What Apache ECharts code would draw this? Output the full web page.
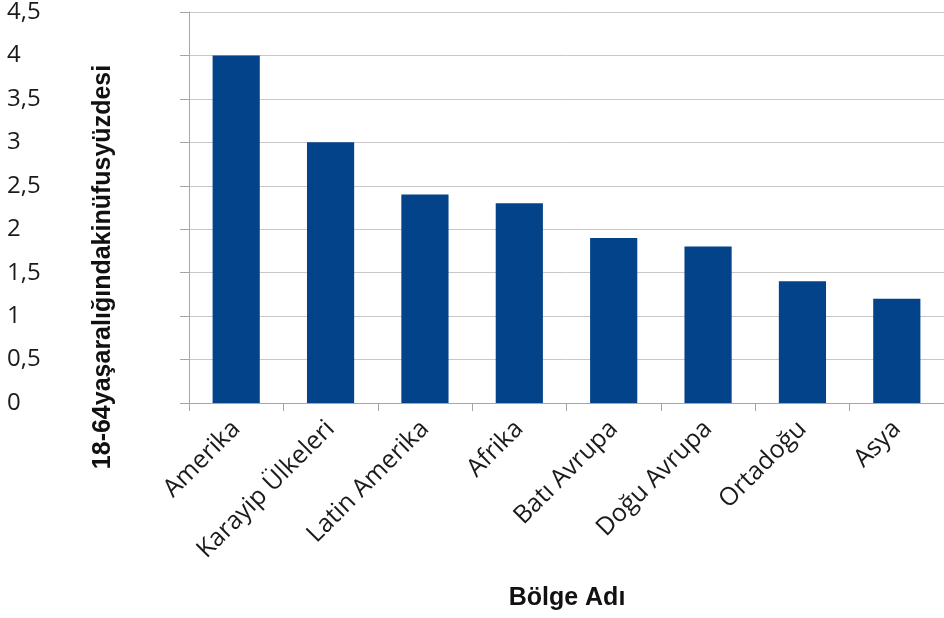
<!DOCTYPE html>
<html>
<head>
<meta charset="utf-8">
<script src="https://cdn.jsdelivr.net/npm/echarts@6/dist/echarts.min.js"></script>
<style>
html, body { margin: 0; padding: 0; background: #fff; }
#main { width: 944px; height: 618px; }
</style>
</head>
<body>
<div id="main"></div>
<script>
var categories = ['Amerika', 'Karayip Ülkeleri', 'Latin Amerika', 'Afrika',
                  'Batı Avrupa', 'Doğu Avrupa', 'Ortadoğu', 'Asya'];
var values = [4, 3, 2.4, 2.3, 1.9, 1.8, 1.4, 1.2];
var yTicks = [0, 0.5, 1, 1.5, 2, 2.5, 3, 3.5, 4, 4.5];

var myChart = echarts.init(document.getElementById('main'));

var option = {
    animation: false,
    grid: {
        left: 189,
        right: -5,
        top: 12,
        bottom: 215
    },
    xAxis: {
        type: 'category',
        data: categories,
        axisLine: {lineStyle: {color: '#a6a6a6', width: 1}},
        axisTick: {show: true, length: 8, alignWithLabel: false, lineStyle: {color: '#a6a6a6'}},
        axisLabel: {
            rotate: 45,
            interval: 0,
            margin: 22,
            fontFamily: 'Open Sans',
            fontSize: 25,
            color: '#1a1a1a'
        }
    },
    yAxis: {
        type: 'value',
        min: yTicks[0],
        max: yTicks[yTicks.length - 1],
        interval: 0.5,
        axisLine: {show: true, lineStyle: {color: '#a6a6a6', width: 1}},
        axisTick: {show: true, length: 9, lineStyle: {color: '#a6a6a6'}},
        splitLine: {lineStyle: {color: '#c8c8c8', width: 1}},
        axisLabel: {
            align: 'left',
            margin: 182,
            fontFamily: 'Open Sans',
            fontSize: 24,
            color: '#1a1a1a',
            formatter: function (v) { return String(v).replace('.', ','); }
        }
    },
    graphic: [
        {
            type: 'text',
            x: 103,
            y: 267,
            rotation: Math.PI / 2,
            style: {
                text: '18-64yaşaralığındakinüfusyüzdesi',
                font: 'bold 25px "Liberation Sans", Arial, sans-serif',
                fill: '#111',
                textAlign: 'center',
                textVerticalAlign: 'middle'
            }
        },
        {
            type: 'text',
            x: 567,
            y: 598,
            style: {
                text: 'Bölge Adı',
                font: 'bold 25px "Liberation Sans", Arial, sans-serif',
                fill: '#111',
                textAlign: 'center',
                textVerticalAlign: 'middle'
            }
        }
    ],
    series: [
        {
            type: 'bar',
            data: values,
            barWidth: '50%',
            itemStyle: {color: '#03438a'}
        }
    ]
};
myChart.setOption(option);
</script>
</body>
</html>
